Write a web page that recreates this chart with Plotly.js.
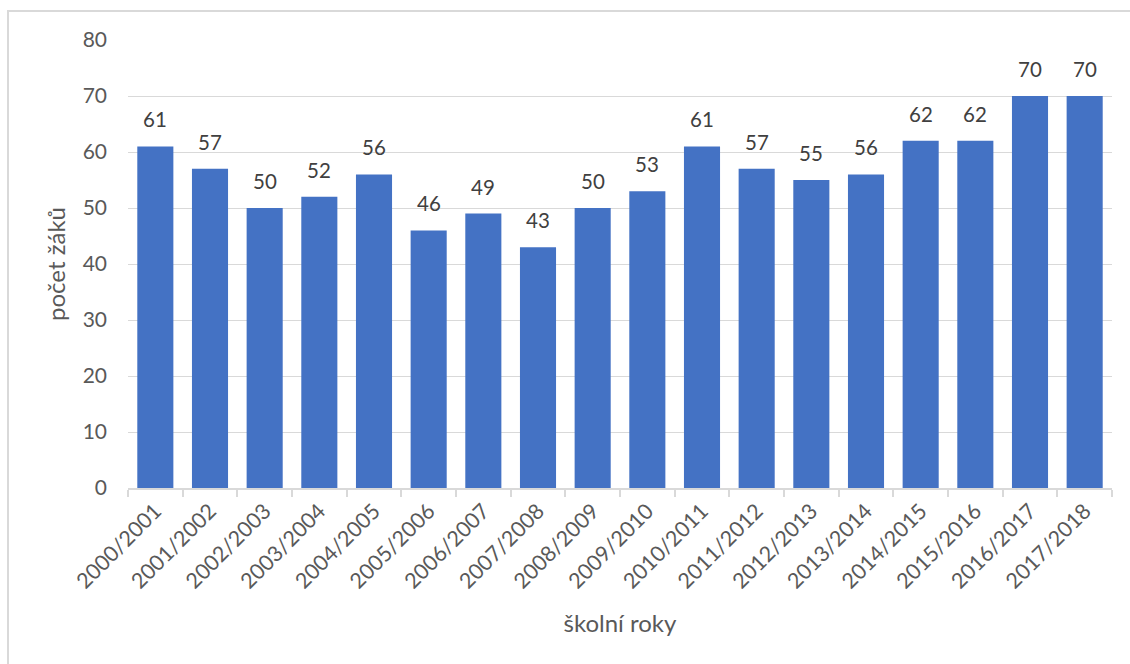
<!DOCTYPE html>
<html>
<head>
<meta charset="utf-8">
<script src="https://cdn.plot.ly/plotly-3.0.1.min.js"></script>
<style>
html,body{margin:0;padding:0;background:#fff;}
#wrap{position:relative;width:1130px;height:664px;overflow:hidden;}
#chart{position:absolute;left:0;top:0;width:1130px;height:664px;}
#frame{position:absolute;left:7px;top:10px;width:1140px;height:700px;border:2px solid #d9d9d9;box-sizing:border-box;pointer-events:none;}
</style>
</head>
<body>
<div id="wrap"><div id="chart"></div><div id="frame"></div></div>
<script>
const categories = ["2000/2001","2001/2002","2002/2003","2003/2004","2004/2005","2005/2006","2006/2007","2007/2008","2008/2009","2009/2010","2010/2011","2011/2012","2012/2013","2013/2014","2014/2015","2015/2016","2016/2017","2017/2018"];
const values = [61,57,50,52,56,46,49,43,50,53,61,57,55,56,62,62,70,70];
const yTitle = "počet žáků";
const xTitle = "školní roky";

const font = "Lato, 'Open Sans', sans-serif";

const trace = {
  type: "bar",
  x: categories,
  y: values,
  marker: {color: "#4472C4"},
  hoverinfo: "x+y"
};

const annotations = categories.map((c, i) => ({
  x: c, y: values[i], xref: "x", yref: "y",
  text: String(values[i]), showarrow: false,
  yanchor: "bottom", yshift: 13,
  font: {family: font, size: 20.5, color: "#404040"}
}));

const layout = {
  width: 1130, height: 664,
  margin: {l: 128, r: 18, t: 40, b: 176},
  paper_bgcolor: "#ffffff", plot_bgcolor: "#ffffff",
  bargap: 0.34,
  showlegend: false,
  font: {family: font, size: 21, color: "#595959"},
  xaxis: {
    type: "category",
    tickangle: -45,
    showline: true, linecolor: "#d9d9d9", linewidth: 2,
    ticks: "outside", tickson: "boundaries", ticklen: 7, tickcolor: "#d9d9d9", tickwidth: 2,
    showgrid: false,
    tickfont: {family: font, size: 21.5, color: "#595959"},
    title: {text: xTitle, standoff: 23, font: {family: font, size: 24, color: "#595959"}},
    automargin: false
  },
  yaxis: {
    range: [0, 80], dtick: 10, tick0: 0,
    showgrid: true, gridcolor: "#d9d9d9", gridwidth: 1,
    zeroline: false, showline: false, ticks: "",
    ticklabelstandoff: 20,
    tickfont: {family: font, size: 21, color: "#595959"},
    title: {text: yTitle, standoff: 10, font: {family: font, size: 24, color: "#595959"}},
    automargin: false
  },
  annotations: annotations
};

Plotly.newPlot("chart", [trace], layout, {displayModeBar: false, staticPlot: true});
</script>
</body>
</html>
